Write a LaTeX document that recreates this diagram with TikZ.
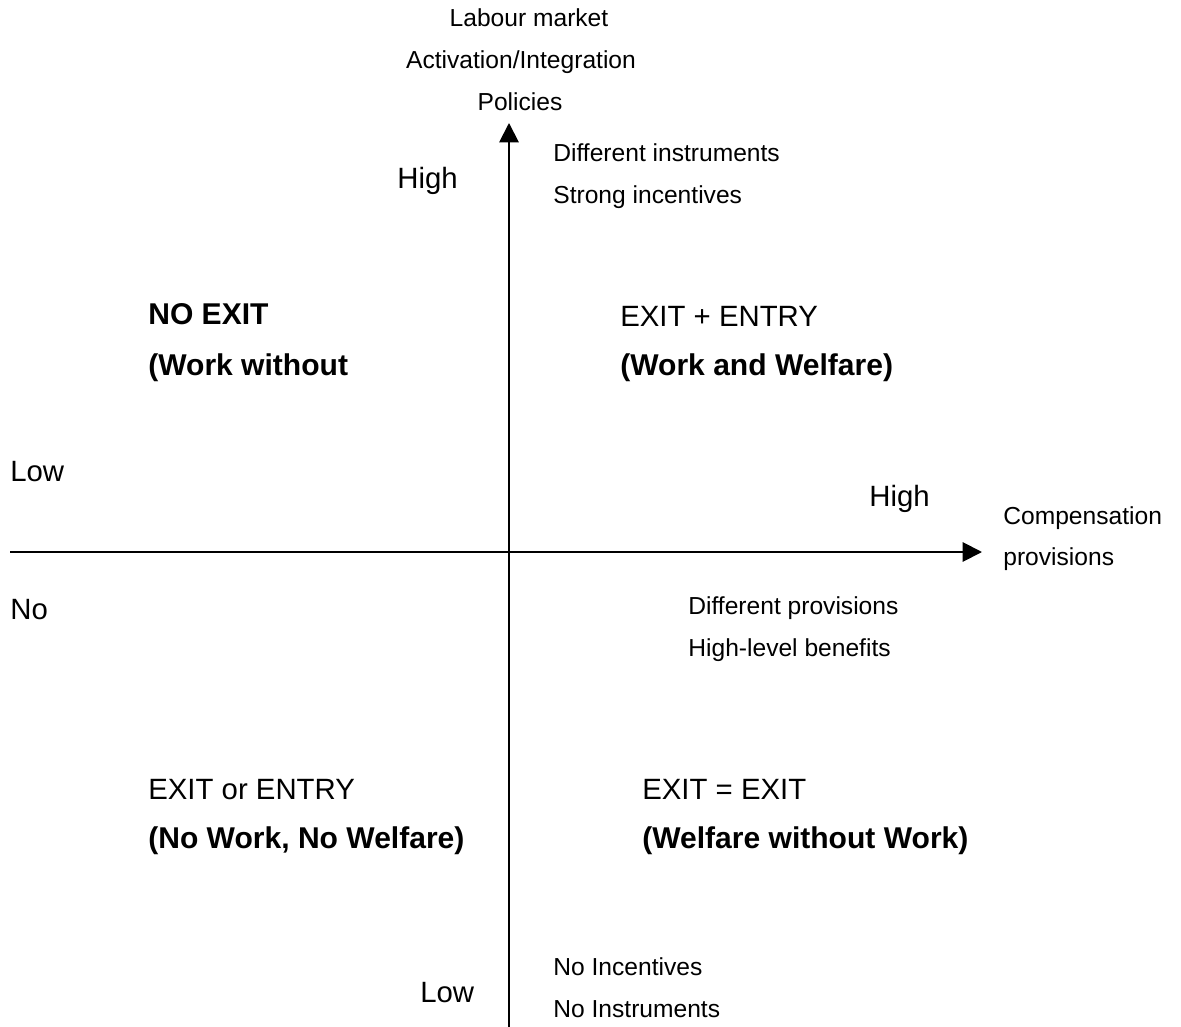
\documentclass[tikz,border=0pt]{standalone}
\usepackage{fontspec}
\setmainfont{Liberation Sans}
\usetikzlibrary{arrows.meta}

\begin{document}
\begin{tikzpicture}[x=0.02cm,y=-0.02cm,line cap=butt,
  small/.style={inner sep=0pt,font=\fontsize{14}{16}\selectfont},
  big/.style={inner sep=0pt,font=\fontsize{16.7}{20}\selectfont},
  bigbold/.style={inner sep=0pt,font=\fontsize{17.1}{20}\selectfont\bfseries},
  axis/.style={line width=1.1pt,-{Triangle[length=11pt,width=11pt]}}]
  \useasboundingbox (0,0) rectangle (1181,1027);
  \coordinate (O) at (509,552);\coordinate (Ytop) at (509,123);\coordinate (Ybot) at (509,1027);
  \coordinate (Xleft) at (10,552);\coordinate (Xright) at (982,552);
  \draw[axis] (Ybot)--(Ytop);
  \draw[axis] (Xleft)--(Xright);
  % vertical axis labels
  \node[small,anchor=base] (lab1) at (529,27) {Labour market};
  \node[small,anchor=base] (lab2) at (521,69) {Activation/Integration};
  \node[small,anchor=base] (lab3) at (520,111) {Policies};
  \node[big,anchor=base west] (yhigh) at (397,189) {High};
  \node[small,anchor=base west] (ins1) at (553,162) {Different instruments};
  \node[small,anchor=base west] (ins2) at (553,204) {Strong incentives};
  \node[big,anchor=base west] (ylow) at (420,1002) {Low};
  \node[small,anchor=base west] (noi1) at (553,975) {No Incentives};
  \node[small,anchor=base west] (noi2) at (553,1017) {No Instruments};
  % horizontal axis labels
  \node[big,anchor=base west] (xlow) at (10,481) {Low};
  \node[big,anchor=base west] (xno) at (10,619) {No};
  \node[big,anchor=base west] (xhigh) at (869,506) {High};
  \node[small,anchor=base west] (comp1) at (1003,524) {Compensation};
  \node[small,anchor=base west] (comp2) at (1003,565) {provisions};
  \node[small,anchor=base west] (prov1) at (688,614) {Different provisions};
  \node[small,anchor=base west] (prov2) at (688,656) {High-level benefits};
  % quadrants
  \node[bigbold,anchor=base west] (q1a) at (148,325) {NO EXIT};
  \node[bigbold,anchor=base west] (q1b) at (148,376) {(Work without};
  \node[big,anchor=base west] (q2a) at (620,327) {EXIT + ENTRY};
  \node[bigbold,anchor=base west] (q2b) at (620,376) {(Work and Welfare)};
  \node[big,anchor=base west] (q3a) at (148,799) {EXIT or ENTRY};
  \node[bigbold,anchor=base west] (q3b) at (148,848) {(No Work, No Welfare)};
  \node[big,anchor=base west] (q4a) at (642,799) {EXIT = EXIT};
  \node[bigbold,anchor=base west] (q4b) at (642,848) {(Welfare without Work)};
\end{tikzpicture}
\end{document}
